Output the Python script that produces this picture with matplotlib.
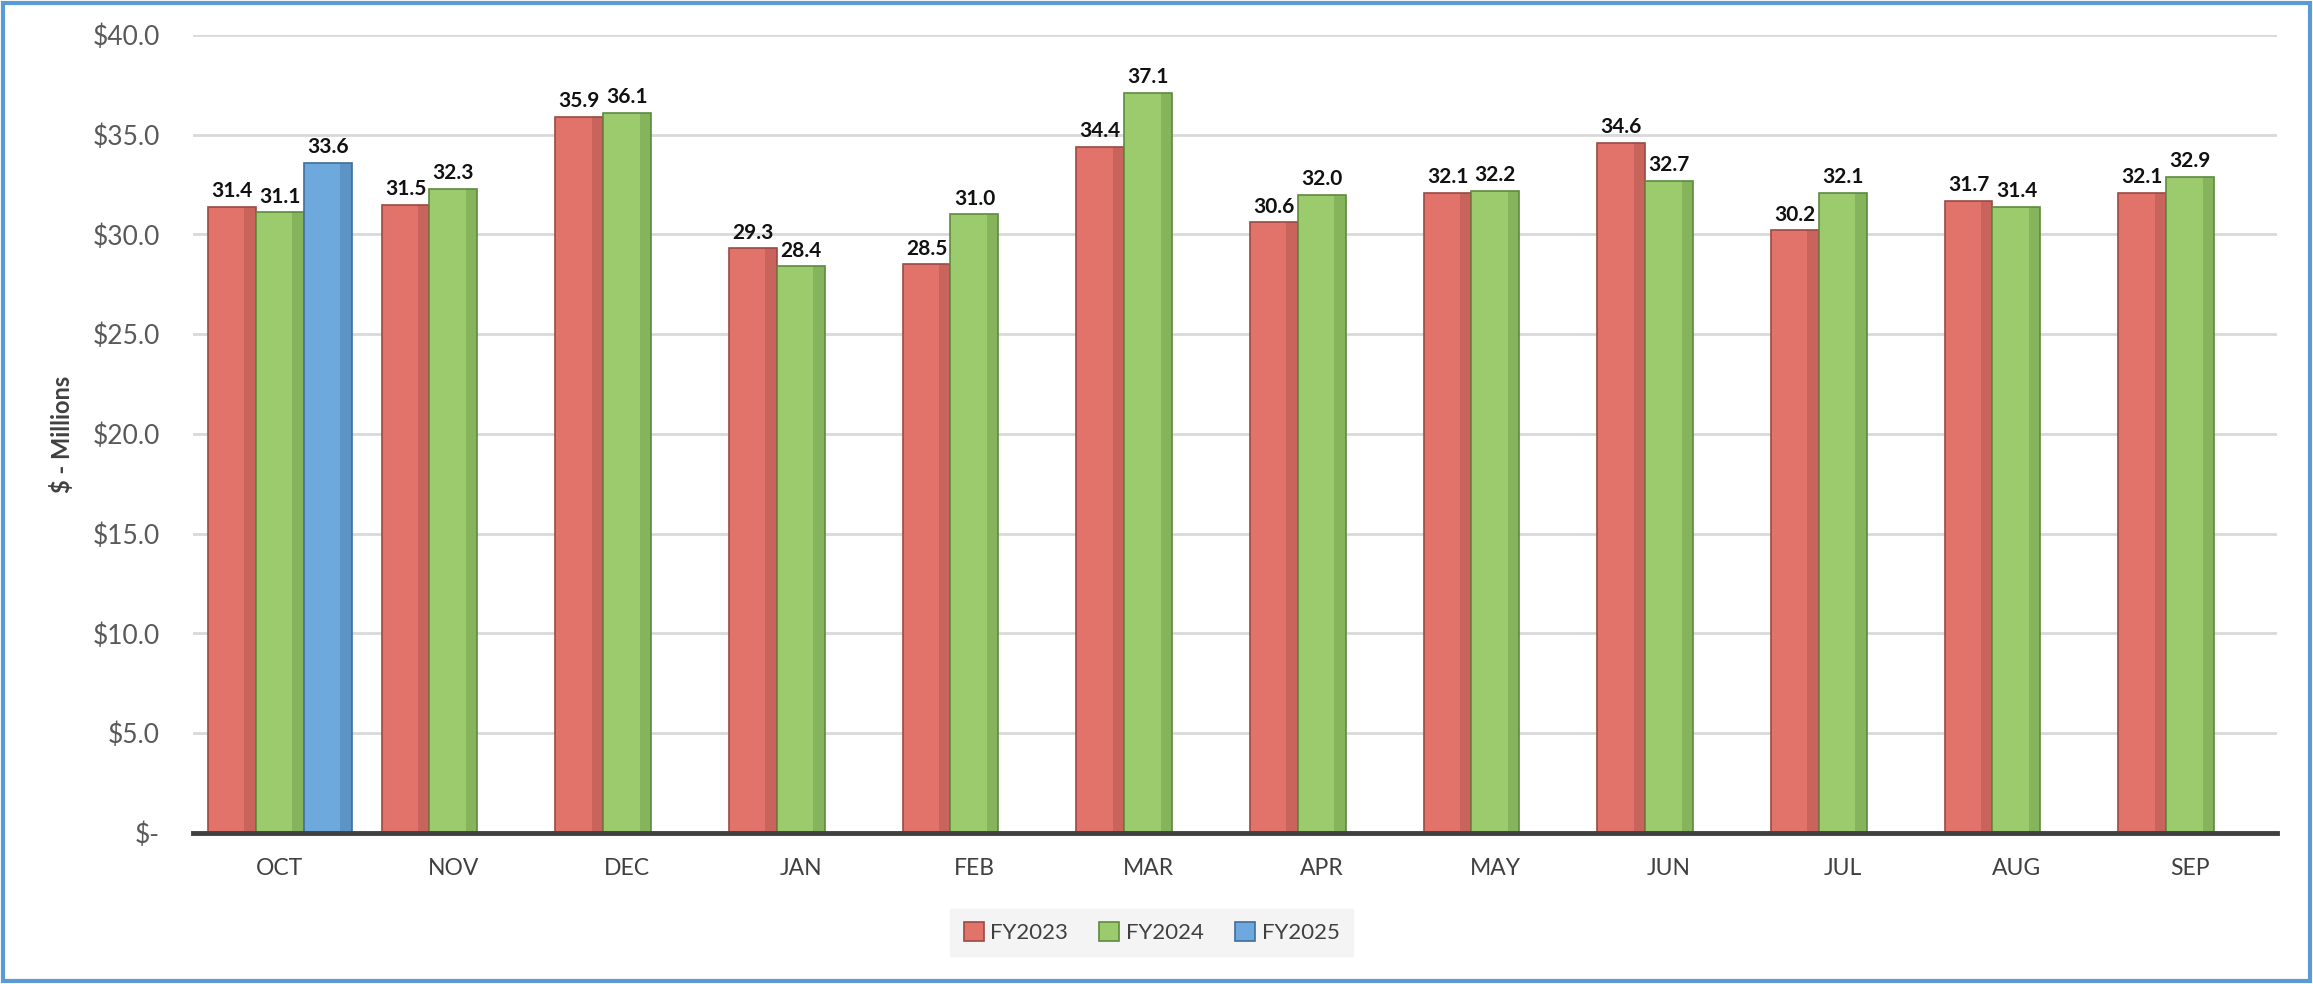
import numpy as np
import matplotlib.pyplot as plt
from matplotlib.patches import Rectangle
from matplotlib.ticker import FuncFormatter

months = ['OCT', 'NOV', 'DEC', 'JAN', 'FEB', 'MAR', 'APR', 'MAY', 'JUN', 'JUL', 'AUG', 'SEP']
fy2023 = [31.4, 31.5, 35.9, 29.3, 28.5, 34.4, 30.6, 32.1, 34.6, 30.2, 31.7, 32.1]
fy2024 = [31.1, 32.3, 36.1, 28.4, 31.0, 37.1, 32.0, 32.2, 32.7, 32.1, 31.4, 32.9]
fy2025 = [33.6]
series_names = ['FY2023', 'FY2024', 'FY2025']

colors = ['#E2736B', '#9CCB6E', '#6EA9DE']
edges = ['#9B4A44', '#5E8A3E', '#3E6E9C']

plt.rcParams['font.family'] = ['Lato', 'DejaVu Sans']

fig = plt.figure(figsize=(23.13, 9.84), dpi=100)
ax = fig.add_axes([0.0834, 0.1535, 0.901, 0.811])

x = np.arange(len(months))
width = 0.276

all_series = [fy2023, fy2024, fy2025]
for i, (vals, name) in enumerate(zip(all_series, series_names)):
    xs = x[:len(vals)] + (i - 1) * width
    bars = ax.bar(xs, vals, width, color=colors[i], edgecolor=edges[i],
                  linewidth=1.2, label=name, zorder=3)
    # darker right side to hint at the bevelled look
    ax.bar(xs + width * 0.38, vals, width * 0.24, color=edges[i], alpha=0.35,
           linewidth=0, zorder=4)
    ax.bar_label(bars, labels=[f'{v:.1f}' for v in vals], padding=4,
                 fontsize=15, fontweight='bold', color='#111111', zorder=5)

ax.set_xlim(-0.5, len(months) - 0.5)
ax.set_ylim(0, 40)
ax.set_yticks(np.arange(0, 41, 5))
ax.yaxis.set_major_formatter(FuncFormatter(lambda v, p: '$-' if v == 0 else f'${v:.1f}'))
ax.set_xticks(x)
ax.set_xticklabels(months)

ax.grid(axis='y', color='#D9D9D9', linewidth=2, zorder=0)
ax.set_axisbelow(True)
for side in ['top', 'right', 'left']:
    ax.spines[side].set_visible(False)
ax.spines['bottom'].set_color('#404040')
ax.spines['bottom'].set_linewidth(3.5)
ax.spines['bottom'].set_zorder(6)

ax.tick_params(axis='y', length=0, pad=24, labelsize=19, labelcolor='#595959')
ax.tick_params(axis='x', length=0, pad=18, labelsize=16.5, labelcolor='#404040')

ax.set_ylabel('$ - Millions', fontsize=17, fontweight='bold', color='#404040', labelpad=13)

leg = ax.legend(loc='center', bbox_to_anchor=(0.46, -0.125), ncol=3, frameon=True,
                fontsize=16, handlelength=0.9, handleheight=0.9, handletextpad=0.3,
                columnspacing=1.4, borderpad=0.6)
leg.get_frame().set_facecolor('#F2F2F2')
leg.get_frame().set_edgecolor('#F2F2F2')
leg.get_frame().set_boxstyle('square', pad=0)
for t in leg.get_texts():
    t.set_color('#404040')

fig.patches.append(Rectangle((0.0015, 0.003), 0.997, 0.994, transform=fig.transFigure,
                             fill=False, edgecolor='#5B9BD5', linewidth=3))

fig.savefig('out.png', dpi=100)
